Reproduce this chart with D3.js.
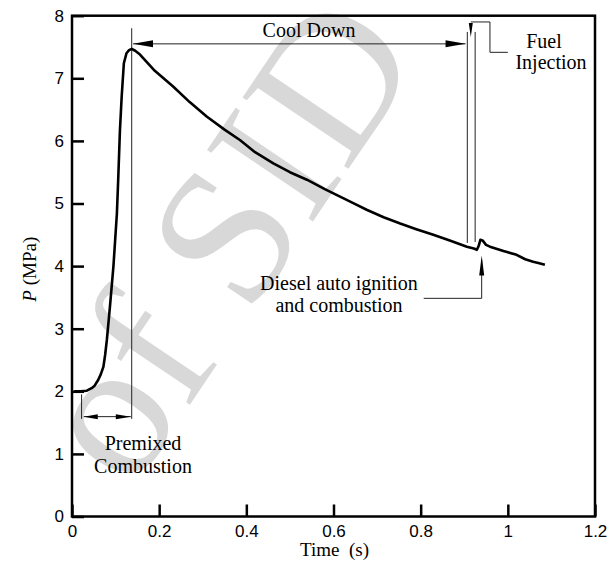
<!DOCTYPE html>
<html>
<head>
<meta charset="utf-8">
<script src="https://cdn.jsdelivr.net/npm/d3@7"></script>
<style>
  body { margin: 0; background: #fff; }
  svg { display: block; }
  .serif { font-family: "Liberation Serif", "Times New Roman", "DejaVu Serif", serif; }
  .sans { font-family: "Liberation Sans", Arial, Helvetica, sans-serif; }
</style>
</head>
<body>
<svg id="chart"></svg>
<script>
// pressure trace
var timeS = [0.005, 0.02, 0.034, 0.045, 0.052, 0.060, 0.066, 0.072, 0.076, 0.080,
  0.087, 0.095, 0.103, 0.106, 0.110, 0.114, 0.119, 0.125, 0.131, 0.137,
  0.145, 0.156, 0.19, 0.232, 0.27, 0.309, 0.35, 0.386, 0.42, 0.462,
  0.50, 0.539, 0.58, 0.615, 0.65, 0.676, 0.715, 0.753, 0.79, 0.829,
  0.87, 0.906, 0.922, 0.929, 0.933, 0.937, 0.942, 0.95, 0.959, 0.99,
  1.02, 1.04, 1.058, 1.07, 1.085]
var pressureMPa = [2.00, 2.00, 2.01, 2.05, 2.09, 2.18, 2.27, 2.39, 2.58, 2.82,
  3.35, 3.99, 4.84, 5.38, 6.17, 6.71, 7.24, 7.40, 7.45, 7.47,
  7.44, 7.38, 7.12, 6.87, 6.62, 6.39, 6.18, 6.01, 5.82, 5.64,
  5.50, 5.38, 5.23, 5.11, 4.99, 4.90, 4.78, 4.68, 4.59, 4.50,
  4.40, 4.31, 4.28, 4.26, 4.32, 4.42, 4.41, 4.34, 4.31, 4.24,
  4.18, 4.11, 4.07, 4.05, 4.02]
var xTicks = [0, 0.2, 0.4, 0.6, 0.8, 1, 1.2]
var yTicks = [0, 1, 2, 3, 4, 5, 6, 7, 8]

// event markers (time s)
var peakT = 0.137
var premixStartT = 0.022
var coolEndT = 0.907
var injectT = 0.925
var igniteT = 0.940

var W = 616, H = 561
var margin = {left: 72, right: 21, top: 15.7, bottom: 44.5}

var svg = d3.select("#chart").attr("width", W).attr("height", H)

var x = d3.scaleLinear().domain([0, 1.2]).range([margin.left, W - margin.right])
var y = d3.scaleLinear().domain([0, 8]).range([H - margin.bottom, margin.top])

// watermark behind everything, one word at a time along a tilted baseline
var wm = svg.append("g").attr("class", "serif").attr("fill", "#d8d8d8").attr("font-size", 195)
wm.append("text")
    .attr("transform", "translate(139,400) rotate(-56)")
    .attr("text-anchor", "middle").attr("dominant-baseline", "middle")
    .text("of")
wm.append("text")
    .attr("transform", "translate(299,162) rotate(-56)")
    .attr("text-anchor", "middle").attr("dominant-baseline", "middle")
    .text("SID")

// axes, ticks point inward
var xAxis = d3.axisBottom(x).tickValues(xTicks).tickFormat(d3.format("~g"))
    .tickSizeInner(-12).tickSizeOuter(0).tickPadding(8)
var yAxis = d3.axisLeft(y).tickValues(yTicks).tickFormat(d3.format("~g"))
    .tickSizeInner(-12).tickSizeOuter(0).tickPadding(8)

var gx = svg.append("g").attr("transform", "translate(0," + y(0) + ")").call(xAxis)
var gy = svg.append("g").attr("transform", "translate(" + x(0) + ",0)").call(yAxis)
gx.select(".domain").remove()
gy.select(".domain").remove()
gx.attr("font-family", null)
gy.attr("font-family", null)
svg.selectAll(".tick line").attr("stroke", "#000").attr("stroke-width", 2.5)
svg.selectAll(".tick text")
    .attr("class", "sans")
    .attr("font-size", 17)
    .attr("fill", "#000")

// frame
svg.append("rect")
    .attr("x", x(0)).attr("y", y(8))
    .attr("width", x(1.2) - x(0)).attr("height", y(0) - y(8))
    .attr("fill", "none").attr("stroke", "#000").attr("stroke-width", 2.5)

// axis titles
svg.append("text")
    .attr("class", "serif")
    .attr("x", (x(0) + x(1.2)) / 2 + 1).attr("y", 556)
    .attr("text-anchor", "middle")
    .attr("font-size", 19)
    .text("Time\u00a0\u00a0(s)")

var ylab = svg.append("text")
    .attr("class", "serif")
    .attr("transform", "translate(36," + y(3.95) + ") rotate(-90)")
    .attr("text-anchor", "middle")
    .attr("font-size", 19)
ylab.append("tspan").attr("font-style", "italic").text("P")
ylab.append("tspan").text(" (MPa)")

// thin annotation helpers
var ann = svg.append("g").attr("stroke", "#222").attr("stroke-width", 1).attr("fill", "none")

function line(pts) {
    ann.append("path").attr("d", d3.line()(pts.map(function(p) { return [x(p[0]), y(p[1])]; })))
}

function head(t, p, dir, len, wid) {
    // dir: unit vector (dx, dy) in pixels pointing to the tip
    var tx = x(t), ty = y(p)
    var bx = tx - dir[0] * len, by = ty - dir[1] * len
    var nx = -dir[1] * wid / 2, ny = dir[0] * wid / 2
    svg.append("path")
        .attr("d", "M" + tx + "," + ty + "L" + (bx + nx) + "," + (by + ny) + "L" + (bx - nx) + "," + (by - ny) + "Z")
        .attr("fill", "#000")
}

// peak marker and premixed span
line([[peakT, 7.80], [peakT, 1.56]])
line([[premixStartT, 1.95], [premixStartT, 1.56]])
line([[premixStartT + 0.005, 1.595], [peakT - 0.002, 1.595]])
head(premixStartT + 0.005, 1.595, [-1, 0], 14, 5)
head(peakT - 0.002, 1.595, [1, 0], 15, 5)

// cool down span
line([[peakT + 0.003, 7.55], [coolEndT - 0.004, 7.55]])
head(peakT + 0.003, 7.55, [-1, 0], 20, 7)
head(coolEndT - 0.004, 7.55, [1, 0], 20, 7)
line([[coolEndT, 7.74], [coolEndT, 4.37]])
line([[injectT, 7.74], [injectT, 4.385]])

// fuel injection leader
line([[0.915, 7.90], [0.959, 7.90], [0.959, 7.415], [1.0, 7.415]])
head(0.915, 7.66, [0, 1], 14, 4)

// ignition leader
line([[igniteT, 4.1], [igniteT, 3.485], [0.807, 3.485]])
head(igniteT, 4.17, [0, -1], 20, 5)

// pressure curve
var trace = timeS.map(function(t, i) { return [t, pressureMPa[i]]; })
svg.append("path")
    .datum(trace)
    .attr("fill", "none")
    .attr("stroke", "#000")
    .attr("stroke-width", 2.6)
    .attr("stroke-linejoin", "round")
    .attr("d", d3.line().x(function(d) { return x(d[0]); }).y(function(d) { return y(d[1]); }))

// annotation labels
function label(cx, s, baseline) {
    svg.append("text")
        .attr("class", "serif")
        .attr("x", cx).attr("y", baseline)
        .attr("text-anchor", "middle")
        .attr("font-size", 20)
        .text(s)
}
label(143, "Premixed", 450)
label(143, "Combustion", 472.5)
label(309, "Cool Down", 37)
label(544, "Fuel", 48)
label(551, "Injection", 69)
label(339, "Diesel auto ignition", 290)
label(339, "and combustion", 311.5)
</script>
</body>
</html>
